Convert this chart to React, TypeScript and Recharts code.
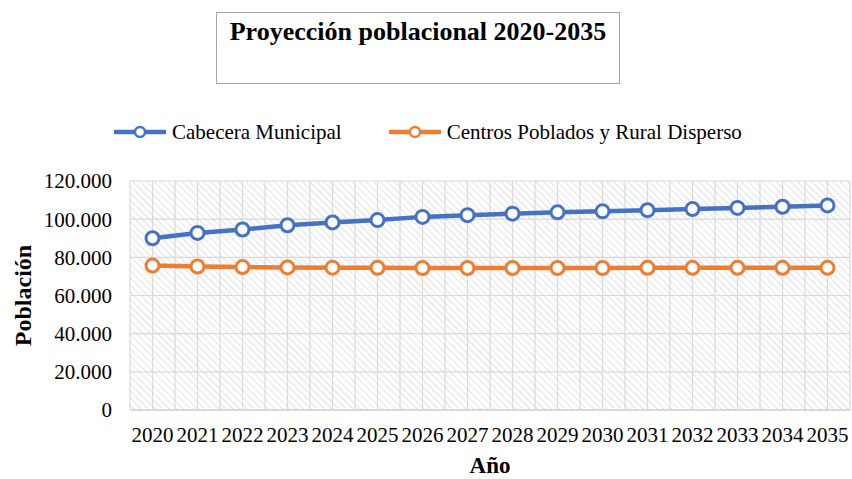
import { CartesianGrid, Line, LineChart, XAxis, YAxis } from 'recharts';

const years: Array<string> = [
  '2020', '2021', '2022', '2023', '2024', '2025', '2026', '2027',
  '2028', '2029', '2030', '2031', '2032', '2033', '2034', '2035',
];

const cabecera: Array<number> = [
  90000, 92800, 94600, 96800, 98300, 99500, 101200, 102100,
  102900, 103600, 104100, 104700, 105300, 105900, 106500, 107200,
];

const rural: Array<number> = [
  75700, 75200, 74900, 74700, 74600, 74500, 74400, 74400,
  74400, 74400, 74400, 74500, 74500, 74500, 74500, 74500,
];

const yTicks: Array<number> = [0, 20000, 40000, 60000, 80000, 100000, 120000];

const series = [
  { key: 'cabecera', name: 'Cabecera Municipal', color: '#4472C4' },
  { key: 'rural', name: 'Centros Poblados y Rural Disperso', color: '#ED7D31' },
];

const data = years.map((year, i) => ({
  year,
  cabecera: cabecera[i],
  rural: rural[i],
}));

const FONT = '"Liberation Serif", "Times New Roman", serif';

const fmt = (v: number) => String(v).replace(/\B(?=(\d{3})+(?!\d))/g, '.');

// 2 grid lines per category: one at the centre, one at the border
const verticalLines = ({ offset }: any) => {
  const step = offset.width / (years.length * 2);
  return Array.from({ length: years.length * 2 + 1 }, (_, i) => offset.left + i * step);
};

const LegendIcon = ({ color }: { color: string }) => (
  <svg width={52} height={16} style={{ display: 'block' }}>
    <line x1={1} y1={8} x2={51} y2={8} stroke={color} strokeWidth={4.5} strokeLinecap="round" />
    <circle cx={26} cy={8} r={5} fill="#fff" stroke={color} strokeWidth={2.5} />
  </svg>
);

export default function App() {
  return (
    <div
      style={{
        position: 'absolute',
        left: 0,
        top: 0,
        width: 852,
        height: 479,
        background: '#fff',
        fontFamily: FONT,
      }}
    >
      <div
        style={{
          position: 'absolute',
          left: 216,
          top: 12,
          width: 402,
          height: 66,
          border: '1.5px solid #a6a6a6',
          textAlign: 'center',
          fontWeight: 'bold',
          fontSize: 26,
          lineHeight: '30px',
          paddingTop: 4,
          boxSizing: 'content-box',
        }}
      >
        Proyección poblacional 2020-2035
      </div>

      <div
        style={{
          position: 'absolute',
          left: 114,
          top: 119,
          display: 'flex',
          alignItems: 'center',
          fontSize: 21,
          lineHeight: '26px',
          color: '#000',
        }}
      >
        {series.map((s) => (
          <div key={s.key} style={{ display: 'flex', alignItems: 'center', marginRight: 47 }}>
            <LegendIcon color={s.color} />
            <span style={{ marginLeft: 6, whiteSpace: 'nowrap' }}>{s.name}</span>
          </div>
        ))}
      </div>

      <LineChart
        width={852}
        height={479}
        data={data}
        margin={{ top: 181, right: 2, bottom: 0, left: 0 }}
        style={{ position: 'absolute', left: 0, top: 0 }}
      >
        <defs>
          <pattern
            id="hatch"
            width={5}
            height={5}
            patternUnits="userSpaceOnUse"
            patternTransform="rotate(-45)"
          >
            <line x1={0} y1={0} x2={0} y2={5} stroke="#e3e3e3" strokeWidth={2.2} />
          </pattern>
        </defs>
        <CartesianGrid
          fill="url(#hatch)"
          fillOpacity={1}
          stroke="#d9d9d9"
          strokeWidth={1.2}
          verticalCoordinatesGenerator={verticalLines}
        />
        <XAxis
          dataKey="year"
          interval={0}
          height={69}
          padding={{ left: 22.5, right: 22.5 }}
          tickSize={0}
          tickMargin={17}
          tickLine={false}
          axisLine={{ stroke: '#d4d4d4', strokeWidth: 1.5 }}
          tick={{ fill: '#000', fontSize: 21, fontFamily: FONT }}
          label={{
            value: 'Año',
            position: 'insideBottom',
            offset: 6,
            style: { fill: '#000', fontSize: 23, fontWeight: 'bold', fontFamily: FONT },
          }}
        />
        <YAxis
          width={130}
          domain={[0, 120000]}
          ticks={yTicks}
          tickFormatter={fmt}
          tickSize={0}
          tickMargin={18}
          tickLine={false}
          axisLine={false}
          tick={{ fill: '#000', fontSize: 21, fontFamily: FONT }}
          label={{
            value: 'Población',
            angle: -90,
            position: 'insideLeft',
            offset: 22,
            style: {
              fill: '#000',
              fontSize: 24,
              fontWeight: 'bold',
              fontFamily: FONT,
              textAnchor: 'middle',
            },
          }}
        />
        {series.map((s) => (
          <Line
            key={s.key}
            type="linear"
            dataKey={s.key}
            name={s.name}
            stroke={s.color}
            strokeWidth={4.5}
            dot={{ r: 6.5, fill: '#fff', stroke: s.color, strokeWidth: 3 }}
            activeDot={false}
            isAnimationActive={false}
          />
        ))}
      </LineChart>
    </div>
  );
}
